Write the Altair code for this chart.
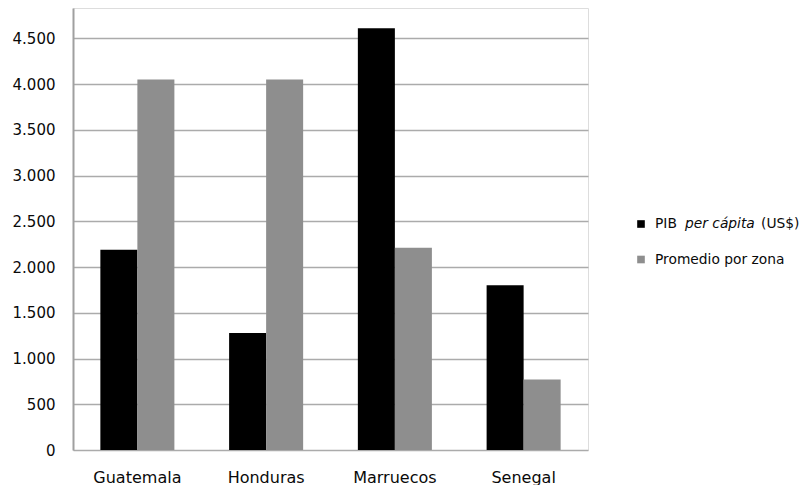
import altair as alt
import pandas as pd

countries = ["Guatemala", "Honduras", "Marruecos", "Senegal"]
series = ["PIB per cápita (US$)", "Promedio por zona"]
pib = [2190, 1280, 4610, 1800]
promedio = [4050, 4050, 2210, 770]
colors = ["#000000", "#8e8e8e"]
y_ticks = [0, 500, 1000, 1500, 2000, 2500, 3000, 3500, 4000, 4500]
legend_row1 = ["PIB", "per cápita", "(US$)"]
legend_row2 = "Promedio por zona"

rows = []
for i, c in enumerate(countries):
    rows.append({"pais": c, "serie": series[0], "valor": pib[i]})
    rows.append({"pais": c, "serie": series[1], "valor": promedio[i]})
df = pd.DataFrame(rows)

FONT = "DejaVu Sans"
TXT = "#0a0a0a"
color_scale = alt.Scale(domain=series, range=colors)

bars = alt.Chart(df).mark_bar().encode(
    x=alt.X("pais:N", sort=countries,
            scale=alt.Scale(paddingInner=0.425, paddingOuter=0.2125),
            axis=alt.Axis(title=None, labelAngle=0, ticks=False, domain=False,
                          labelFont=FONT, labelFontSize=16, labelPadding=19,
                          labelColor=TXT)),
    xOffset=alt.XOffset("serie:N", sort=series, scale=alt.Scale(paddingInner=0, paddingOuter=0)),
    y=alt.Y("valor:Q", scale=alt.Scale(domain=[0, 4831], nice=False),
            axis=alt.Axis(title=None, values=y_ticks, ticks=False,
                          labelExpr="replace(format(datum.value, ','), ',', '.')",
                          domainColor="#a0a0a0", domainWidth=2,
                          gridColor="#ababab", gridWidth=1.5,
                          labelFont=FONT, labelFontSize=15, labelPadding=18,
                          labelColor=TXT)),
    color=alt.Color("serie:N", scale=color_scale, legend=None),
)

LX = 568
TX = 582
R1 = 216
R2 = 251.5

sq1 = alt.Chart(pd.DataFrame({"serie": [series[0]]})).mark_square(size=58, opacity=1).encode(
    x=alt.value(LX), y=alt.value(R1),
    color=alt.Color("serie:N", scale=color_scale, legend=None))
sq2 = alt.Chart(pd.DataFrame({"serie": [series[1]]})).mark_square(size=58, opacity=1).encode(
    x=alt.value(LX), y=alt.value(R2),
    color=alt.Color("serie:N", scale=color_scale, legend=None))

def txt(s, x, y, style="normal"):
    return alt.Chart(pd.DataFrame({"t": [s]})).mark_text(
        align="left", baseline="middle", font=FONT, fontSize=13.8,
        fontStyle=style, color=TXT).encode(
        text="t:N", x=alt.value(x), y=alt.value(y))

legend = [
    txt(legend_row1[0], TX, R1),
    txt(legend_row1[1], TX + 30, R1, "italic"),
    txt(legend_row1[2], TX + 106, R1),
    txt(legend_row2, TX, R2),
]

chart = alt.layer(bars, sq1, sq2, *legend).properties(
    width=515, height=442,
    padding={"left": 4, "top": 0, "right": 0, "bottom": 0},
).configure_view(stroke=None).configure(background="white")

chart.save("out.html", embed_options={"renderer": "svg", "actions": False})
